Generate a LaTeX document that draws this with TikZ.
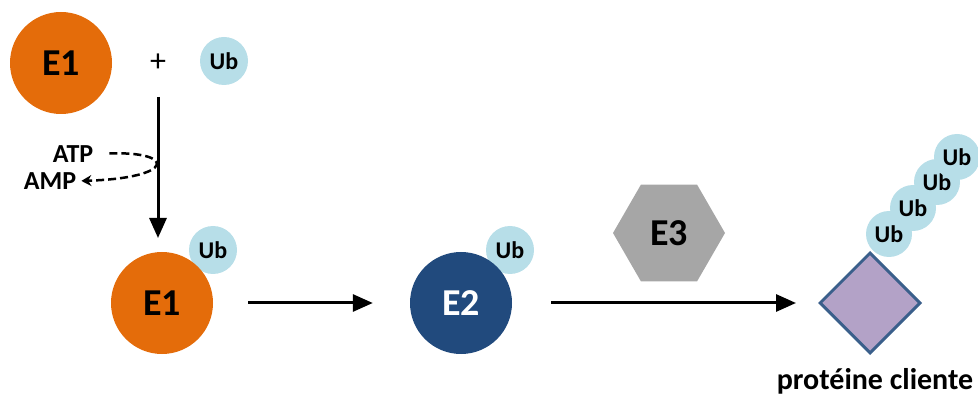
\documentclass[tikz,border=0pt]{standalone}
\usepackage{fontspec}
\setmainfont{Carlito}
\usepackage{xcolor}
\usetikzlibrary{arrows.meta, shapes.geometric}

\definecolor{eorange}{HTML}{E46C0A}
\definecolor{eblue}{HTML}{214A7D}
\definecolor{ubblue}{HTML}{B7DEE8}
\definecolor{egray}{HTML}{A6A6A6}
\definecolor{protfill}{HTML}{B3A2C7}
\definecolor{protedge}{HTML}{3A5F8B}

\begin{document}
\begin{tikzpicture}[x=1pt, y=-1pt]
\tikzstyle{every node}=[font=\bfseries]
\tikzstyle{enz}=[circle, minimum size=102pt, inner sep=0pt, font=\fontsize{38}{38}\selectfont\bfseries]
\tikzstyle{ub}=[circle, fill=ubblue, minimum size=48pt, inner sep=0pt, font=\fontsize{24}{24}\selectfont\bfseries]
\tikzstyle{small}=[inner sep=2pt, font=\fontsize{26}{26}\selectfont\bfseries]
\tikzstyle{arr}=[line width=3pt, -{Triangle[length=20pt, width=17pt]}]

\useasboundingbox (0, 0) rectangle (978, 398);

% E1 + Ub
\node[enz, fill=eorange] (e1a) at (61, 63) {E1};
\node[font=\fontsize{32}{32}\selectfont] (plus) at (158, 63) {+};
\node[ub] (uba) at (224, 61) {Ub};

% activation
\coordinate (acttop) at (158, 97);
\coordinate (actbot) at (158, 238);
\draw[arr] (acttop) -- (actbot);
    \node[small] (atp) at (73, 154) {ATP};
    \node[small] (amp) at (50, 181) {AMP};
\draw[line width=2.5pt, dash pattern=on 8pt off 4pt, -{Stealth[length=10pt, width=11pt]},
      shorten <=14pt, shorten >=3pt] (atp.east) .. controls (176, 151) and (176, 178) .. (amp.east);

% E1~Ub
\node[ub] (ubb) at (213, 250) {Ub};
\node[enz, fill=eorange] (e1b) at (162, 303) {E1};

% E2~Ub
\node[ub] (ubc) at (510, 250) {Ub};
\node[enz, fill=eblue, text=white] (e2) at (461, 303) {E2};

% E3
\node[regular polygon, regular polygon sides=6, fill=egray, minimum size=112pt, inner sep=0pt,
      font=\fontsize{38}{38}\selectfont\bfseries] (e3) at (669, 233) {E3};

% poly-Ub chain
\node[ub, minimum size=46pt] (ubd1) at (889, 234) {Ub};
\node[ub, minimum size=46pt] (ubd2) at (913, 208) {Ub};
\node[ub, minimum size=46pt] (ubd3) at (937, 182) {Ub};
\node[ub, minimum size=46pt] (ubd4) at (957, 157) {Ub};

% protein
\node[diamond, fill=protfill, draw=protedge, line width=3pt, minimum width=101pt,
      minimum height=101pt, inner sep=0pt] (prot) at (870, 303) {};
    \node[font=\fontsize{30}{30}\selectfont\bfseries] (protlbl) at (875, 381) {protéine cliente};

\draw[arr, shorten <=35pt, shorten >=37pt] (e1b) -- (e2);
\draw[arr, shorten <=39pt, shorten >=22pt] (e2) -- (prot);

\end{tikzpicture}
\end{document}
